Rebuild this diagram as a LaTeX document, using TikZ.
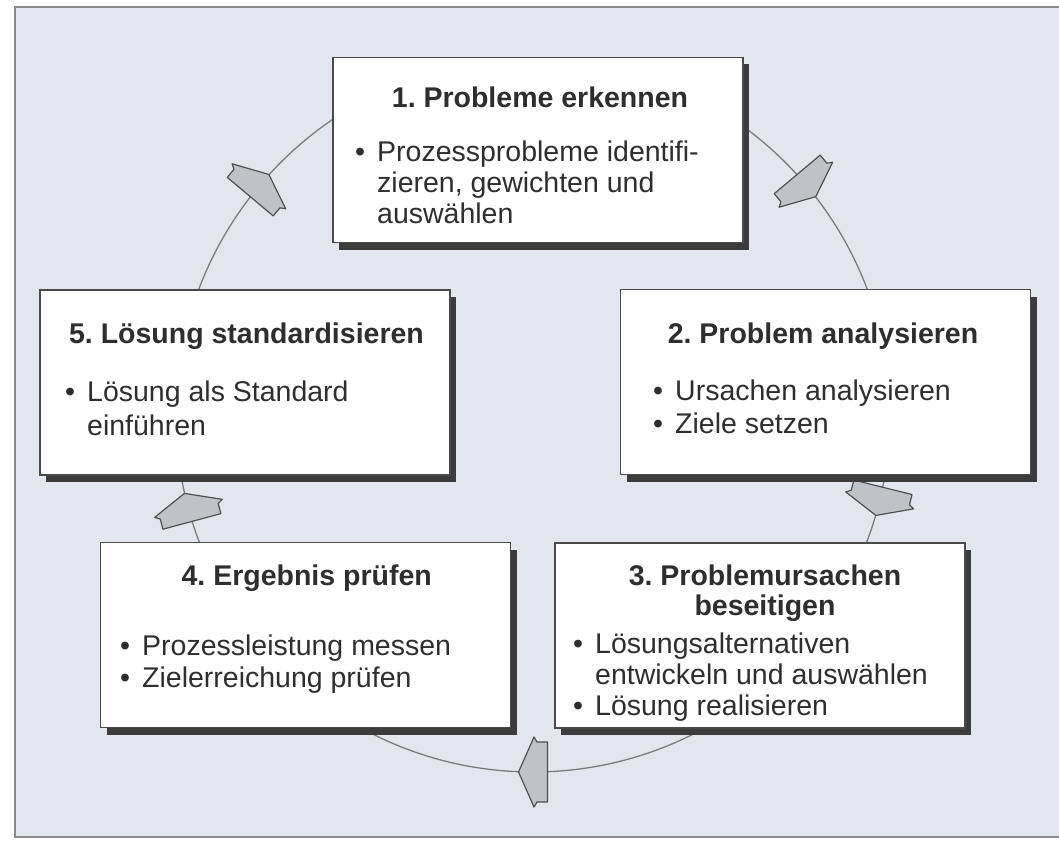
\documentclass[tikz,border=0pt]{standalone}
\usepackage{fontspec}
\setmainfont{Liberation Sans}
\usetikzlibrary{calc,shadows}
\frenchspacing
\definecolor{bg}{HTML}{E3E7ED}
\definecolor{framec}{HTML}{8A8A8A}
\definecolor{circc}{HTML}{7C7C7C}
\definecolor{arrfill}{HTML}{BFC3C8}
\definecolor{arrline}{HTML}{505050}
\definecolor{boxline}{HTML}{4A4A4A}
\definecolor{shadowc}{HTML}{3C3C3C}
\definecolor{txt}{HTML}{2E2E2E}
\newcommand{\stepbullet}{\makebox[22pt][l]{•}}
\newcommand{\contind}{\hspace*{22pt}}
\tikzset{
  stagebox/.style={draw=boxline, line width=1.2pt, fill=white,
    minimum width=410pt, minimum height=185pt, inner sep=0pt,
    drop shadow={shadow xshift=6pt, shadow yshift=-7pt, fill=shadowc, opacity=1}},
  steptitle/.style={anchor=base, inner sep=0pt, text=txt,
    font=\fontsize{28.5}{31}\selectfont\bfseries},
  stepbody/.style={anchor=base west, inner sep=0pt, text=txt,
    font=\fontsize{28.5}{31}\selectfont},
  cyclearrow/.pic={
    \draw[fill=arrfill, draw=arrline, line width=1.2pt, line join=round]
      (14.5,0) -- (-1,35) -- (-4,30) -- (-14.5,30) -- (-14.5,-30)
      -- (-4,-30) -- (-1,-35) -- cycle;}
}
\begin{document}
\begin{tikzpicture}[x=1pt,y=-1pt]
  \useasboundingbox (0,0) rectangle (1059,840);
  \fill[white] (0,0) rectangle (1059,840);
  \draw[framec, line width=2pt, fill=bg] (15,7) rectangle (1075,837);

  % cycle circle
  \coordinate (ctr) at (533,415);
  \draw[circc, line width=1.3pt] (ctr) circle[radius=357pt];

  % arrows on the circle (clockwise)
  \coordinate (a51) at ($(ctr)+(140:357pt)$);
  \coordinate (a12) at ($(ctr)+(40:357pt)$);
  \coordinate (a23) at ($(ctr)+(-14:357pt)$);
  \coordinate (a34) at ($(ctr)+(-90:357pt)$);
  \coordinate (a45) at ($(ctr)+(195:357pt)$);
  \pic[rotate=50]   at (a51) {cyclearrow};
  \pic[rotate=-50]  at (a12) {cyclearrow};
  \pic[rotate=-104] at (a23) {cyclearrow};
  \pic[rotate=180]  at (a34) {cyclearrow};
  \pic[rotate=105]  at (a45) {cyclearrow};

  % boxes
  \node[stagebox] (b1) at (538,150) {};
  \node[stagebox] (b2) at (825.5,382) {};
  \node[stagebox] (b5) at (245,382.5) {};
  \node[stagebox] (b3) at (760,635.5) {};
  \node[stagebox] (b4) at (305.5,635) {};

  % box 1
  \node[steptitle] (t1) at (540,108) {1. Probleme erkennen};
  \node[stepbody] (l1) at (355,161.5) {\begin{tabular}[t]{@{}l@{}}
    \stepbullet Prozessprobleme identifi-\\
    \contind zieren, gewichten und\\
    \contind auswählen\end{tabular}};

  % box 2
  \node[steptitle] (t2) at (823,343) {2. Problem analysieren};
  \node[stepbody] (l2) at (653,400.7) {\begin{tabular}[t]{@{}l@{}}
    \stepbullet Ursachen analysieren\\[2pt]
    \stepbullet Ziele setzen\end{tabular}};

  % box 5
  \node[steptitle] (t5) at (246.5,343) {5. Lösung standardisieren};
  \node[stepbody] (l5) at (65,401.7) {\begin{tabular}[t]{@{}l@{}}
    \stepbullet Lösung als Standard\\[3pt]
    \contind einführen\end{tabular}};

  % box 3
  \node[steptitle] (t3a) at (765,585) {3. Problemursachen};
  \node[steptitle] (t3b) at (765,615) {beseitigen};
  \node[stepbody] (l3) at (573,653.3) {\begin{tabular}[t]{@{}l@{}}
    \stepbullet Lösungsalternativen\\
    \contind entwickeln und auswählen\\
    \stepbullet Lösung realisieren\end{tabular}};

  % box 4
  \node[steptitle] (t4) at (306.7,585) {4. Ergebnis prüfen};
  \node[stepbody] (l4) at (120,655) {\begin{tabular}[t]{@{}l@{}}
    \stepbullet Prozessleistung messen\\[1pt]
    \stepbullet Zielerreichung prüfen\end{tabular}};
\end{tikzpicture}
\end{document}
